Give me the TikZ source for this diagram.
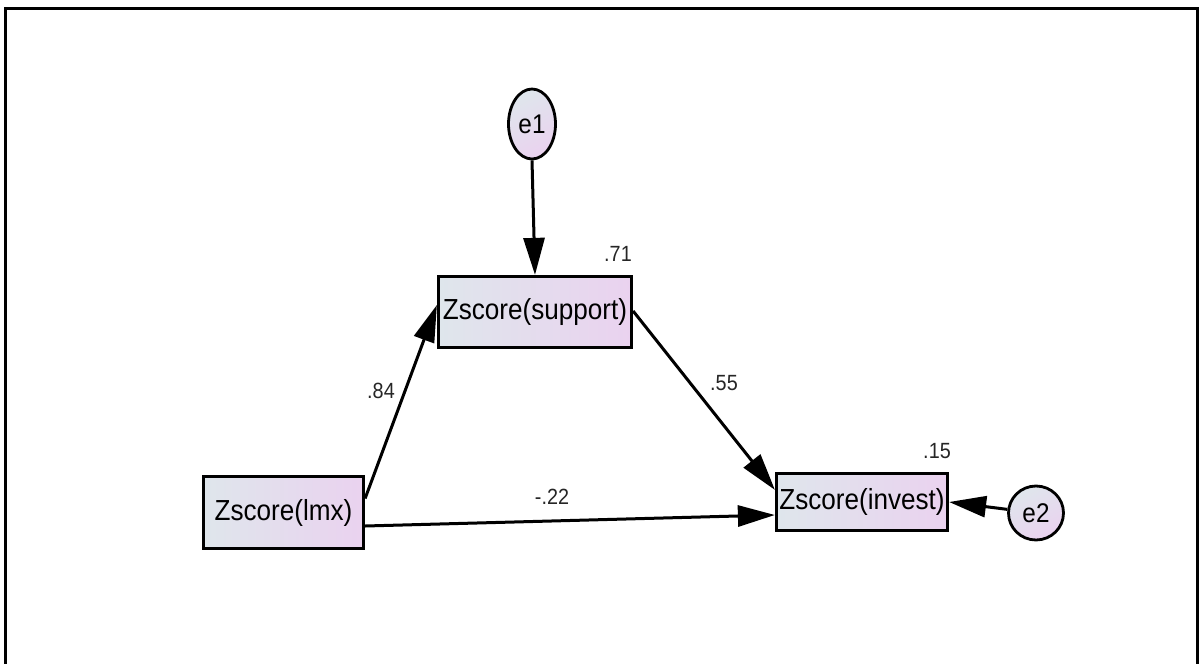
\documentclass[tikz,border=0pt]{standalone}
\usepackage{fontspec}
\setmainfont[FakeStretch=0.9]{Liberation Sans}
\usetikzlibrary{arrows.meta,shapes.geometric}
\definecolor{boxL}{HTML}{DFE6EC}
\definecolor{boxR}{HTML}{EAD2EF}
\tikzset{
  obs/.style={draw=black, line width=3.2pt, left color=boxL, right color=boxR,
    inner sep=0pt, font=\fontsize{29}{30}\selectfont},
  errv/.style={ellipse, draw=black, line width=2.8pt, shading=axis,
    top color=boxL, bottom color=boxR, shading angle=30,
    inner sep=0pt, font=\fontsize{27}{28}\selectfont},
  regpath/.style={-{Triangle[length=37pt,width=21pt]}, line width=3pt},
  coef/.style={font=\fontsize{22}{24}\selectfont, text=black!85, inner sep=0pt},
  frame/.style={draw=black, line width=3.2pt}
}
\begin{document}
\begin{tikzpicture}[x=1pt,y=-1pt]
\clip (0,0) rectangle (1203,664);
\fill[white] (0,0) rectangle (1203,664);
\draw[frame] (5.5,8.5) rectangle (1197.5,700);

\node[obs, minimum width=193pt, minimum height=71pt] (sup) at (535,312) {Zscore(support)};
\node[obs, minimum width=160pt, minimum height=72pt] (lmx) at (283.5,512.5) {Zscore(lmx)};
\node[obs, minimum width=171pt, minimum height=57pt] (inv) at (862,502) {Zscore(invest)};
\node[errv, minimum width=47pt, minimum height=70pt] (e1) at (532,124) {e1};
\node[errv, minimum width=55pt, minimum height=54pt] (e2) at (1036,513) {e2};

\draw[regpath] (e1.south) -- (sup.north);
\draw[regpath] ([yshift=14pt]lmx.east) -- ([yshift=7pt]sup.west);
\draw[regpath] ([yshift=-13.5pt]lmx.east) -- ([yshift=-13pt]inv.west);
\draw[regpath] ([yshift=1pt]sup.east) -- ([yshift=-18pt]inv.north west);
\draw[regpath] (e2) -- (inv.east);

\node[coef] (r1) at (618,254) {.71};
\node[coef] (r2) at (937,451) {.15};
\node[coef] (c1) at (381,391) {.84};
\node[coef] (c2) at (724,383) {.55};
\node[coef] (c3) at (552,497) {-.22};
\end{tikzpicture}
\end{document}
